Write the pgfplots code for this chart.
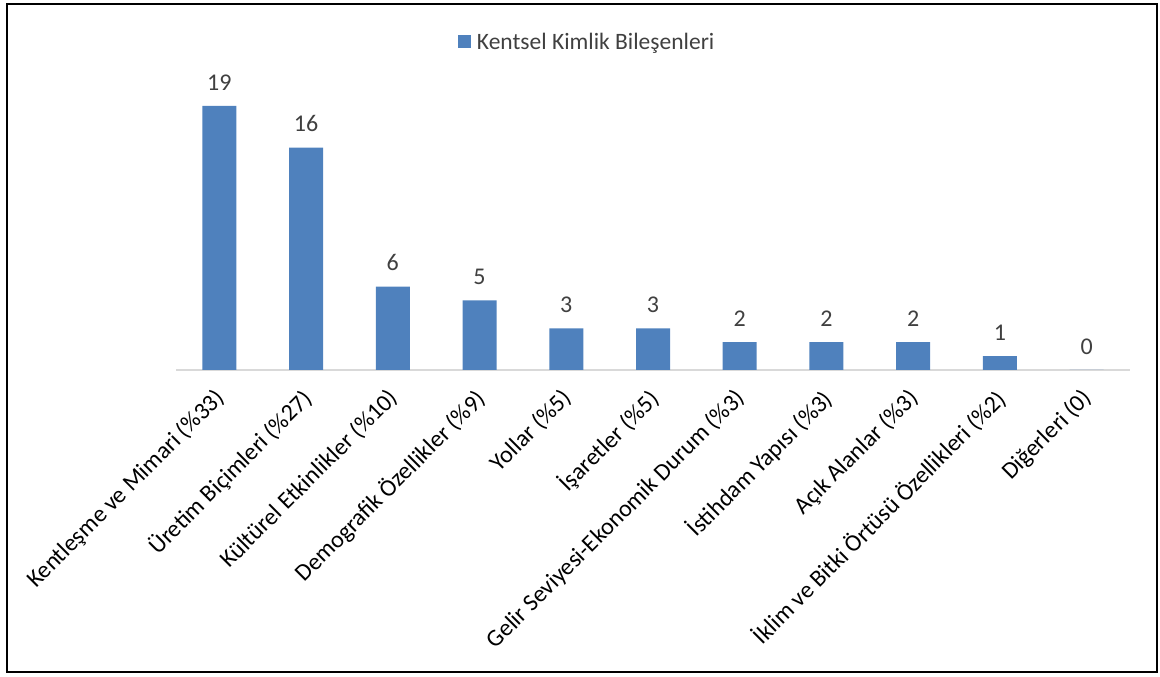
\documentclass[border=0pt]{standalone}
\usepackage{pgfplots}
\pgfplotsset{compat=1.18}
\usepackage{fontspec}
\setmainfont{Carlito}
\definecolor{barblue}{RGB}{79,129,189}
\definecolor{basegray}{RGB}{217,217,217}
\definecolor{txtgray}{RGB}{64,64,64}
\begin{document}
\begin{tikzpicture}[x=1bp,y=1bp]
\path[use as bounding box] (0,0) rectangle (1160,677);
\draw[line width=1.5bp, black] (7,5) rectangle (1157,673);
\begin{axis}[
  at={(176bp,307bp)}, anchor=south west,
  scale only axis, width=954bp, height=278bp,
  xmin=-0.5, xmax=10.5, ymin=0, ymax=20,
  axis x line*=bottom, axis y line=none,
  x axis line style={draw=basegray, line width=1.2bp},
  ytick=\empty,
  xtick=data,
  xtick style={draw=none},
  xticklabels={Kentleşme ve Mimari (\%33),Üretim Biçimleri (\%27),Kültürel Etkinlikler (\%10),Demografik Özellikler (\%9),Yollar (\%5),İşaretler (\%5),Gelir Seviyesi-Ekonomik Durum (\%3),İstihdam Yapısı (\%3),Açık Alanlar (\%3),İklim ve Bitki Örtüsü Özellikleri (\%2),Diğerleri (0)},
  xticklabel style={rotate=45, anchor=north east, font=\fontsize{24bp}{28bp}\selectfont, text=black, xshift=-10bp, yshift=-1bp},
  ybar, bar width=34bp,
  /pgf/number format/assume math mode=true,
  nodes near coords,
  every node near coord/.append style={font=\fontsize{24bp}{28bp}\selectfont, text=txtgray, yshift=12bp},
  legend style={at={(0.431,1.18)}, anchor=center, draw=none, fill=none,
    font=\fontsize{23.5bp}{28bp}\selectfont, text=txtgray},
  legend image code/.code={\fill[barblue] (0bp,-6.5bp) rectangle (13bp,6.5bp); \path (17bp,0bp);},
  clip=false,
]
\addplot[fill=barblue, draw=none] coordinates {
 (0,19) (1,16) (2,6) (3,5) (4,3) (5,3) (6,2) (7,2) (8,2) (9,1) (10,0)};
\addlegendentry{Kentsel Kimlik Bileşenleri}
\end{axis}
\end{tikzpicture}
\end{document}
